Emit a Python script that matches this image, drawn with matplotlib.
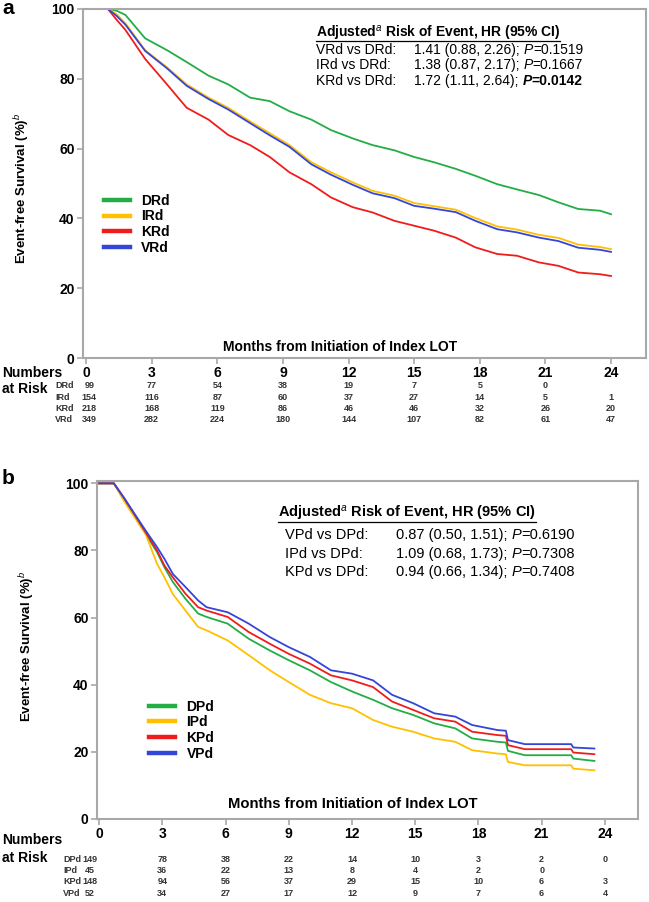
import matplotlib
matplotlib.use("Agg")
import matplotlib.pyplot as plt
import matplotlib.transforms as mtransforms
from matplotlib.lines import Line2D

plt.rcParams['font.family'] = ['Liberation Sans', 'DejaVu Sans']
plt.rcParams['mathtext.fontset'] = 'custom'
plt.rcParams['mathtext.rm'] = 'Liberation Sans'
plt.rcParams['mathtext.it'] = 'Liberation Sans:italic'
plt.rcParams['mathtext.bf'] = 'Liberation Sans:bold'

# ---- data, panel a ----
months_a = [0, 1.0, 1.4, 1.8, 2.7, 3.7, 4.6, 5.6, 6.5, 7.5, 8.4, 9.3, 10.3, 11.2,
            12.2, 13.1, 14.1, 15.0, 15.9, 16.9, 17.8, 18.8, 19.7, 20.7, 21.6, 22.5, 23.5, 24.0]
drd = [100, 100, 99.5, 98.3, 91.6, 88.2, 84.8, 80.9, 78.4, 74.6, 73.6, 70.7, 68.3, 65.3,
       62.9, 61.0, 59.5, 57.6, 56.1, 54.2, 52.2, 49.8, 48.3, 46.7, 44.6, 42.7, 42.2, 41.2]
ird = [100, 100, 98.5, 95.9, 88.2, 83.3, 78.4, 74.6, 71.7, 67.8, 64.4, 61.0, 56.1, 53.2,
       50.3, 47.9, 46.5, 44.4, 43.5, 42.5, 40.1, 37.7, 36.8, 35.3, 34.4, 32.5, 31.8, 31.2]
krd = [100, 100, 96.9, 94.0, 85.7, 78.4, 71.7, 68.3, 63.9, 61.0, 57.6, 53.2, 49.8, 46.0,
       43.2, 41.7, 39.3, 37.9, 36.5, 34.5, 31.7, 29.8, 29.3, 27.4, 26.4, 24.5, 24.0, 23.5]
vrd = [100, 100, 98.0, 95.5, 88.0, 83.0, 78.0, 74.2, 71.2, 67.3, 63.8, 60.5, 55.5, 52.5,
       49.6, 47.2, 45.8, 43.6, 42.8, 41.8, 39.3, 36.9, 36.0, 34.5, 33.5, 31.6, 31.0, 30.4]
names_a = ['DRd', 'IRd', 'KRd', 'VRd']
risk_a = [[99, 77, 54, 38, 19, 7, 5, 0, None],
          [154, 116, 87, 60, 37, 27, 14, 5, 1],
          [218, 168, 119, 86, 46, 46, 32, 26, 20],
          [349, 282, 224, 180, 144, 107, 82, 61, 47]]
hr_labels_a = ['VRd vs DRd:', 'IRd vs DRd:', 'KRd vs DRd:']
hr_values_a = ['1.41 (0.88, 2.26); ', '1.38 (0.87, 2.17); ', '1.72 (1.11, 2.64); ']
p_values_a = ['=0.1519', '=0.1667', '=0.0142']

# ---- data, panel b ----
months_b = [0, 0.7, 1.2, 2.2, 2.75, 3.1, 3.5, 4.1, 4.7, 5.1, 6.1, 7.1, 8.1, 9.0, 10.0,
            11.0, 12.0, 13.0, 13.9, 14.9, 15.9, 16.9, 17.7, 18.9, 19.3, 19.4, 20.2, 22.4, 22.5, 23.5]
dpd = [100, 100, 95.0, 85.0, 79.5, 75.0, 70.6, 65.6, 61.2, 60.2, 58.2, 53.7, 50.2, 47.3, 44.3,
       40.8, 38.0, 35.5, 33.0, 31.0, 28.5, 27.0, 24.0, 23.0, 22.8, 20.3, 19.0, 19.0, 18.0, 17.3]
ipd = [100, 100, 94.5, 85.0, 76.0, 72.0, 67.0, 62.1, 57.2, 56.2, 53.2, 48.8, 44.3, 40.8, 37.0,
       34.5, 33.0, 29.5, 27.5, 26.0, 24.0, 23.0, 20.5, 19.5, 19.3, 17.0, 16.0, 16.0, 15.0, 14.5]
kpd = [100, 100, 95.5, 85.5, 80.0, 75.5, 72.0, 67.1, 63.1, 62.1, 60.2, 55.7, 52.2, 49.2, 46.3,
       42.8, 41.3, 39.3, 35.0, 32.5, 30.0, 29.0, 26.0, 25.0, 24.8, 22.0, 20.8, 20.8, 19.8, 19.3]
vpd = [100, 100, 95.5, 86.0, 81.0, 77.5, 73.0, 69.1, 65.1, 63.1, 61.6, 58.2, 54.2, 51.2, 48.3,
       44.3, 43.3, 41.3, 37.0, 34.5, 31.5, 30.5, 28.0, 26.5, 26.3, 23.5, 22.3, 22.3, 21.3, 21.0]
names_b = ['DPd', 'IPd', 'KPd', 'VPd']
risk_b = [[149, 78, 38, 22, 14, 10, 3, 2, 0],
          [45, 36, 22, 13, 8, 4, 2, 0, None],
          [148, 94, 56, 37, 29, 15, 10, 6, 3],
          [52, 34, 27, 17, 12, 9, 7, 6, 4]]
hr_labels_b = ['VPd vs DPd:', 'IPd vs DPd:', 'KPd vs DPd:']
hr_values_b = ['0.87 (0.50, 1.51); ', '1.09 (0.68, 1.73); ', '0.94 (0.66, 1.34); ']
p_values_b = ['=0.6190', '=0.7308', '=0.7408']

month_ticks = [0, 3, 6, 9, 12, 15, 18, 21, 24]
surv_ticks = [0, 20, 40, 60, 80, 100]
colors = ['#22ad45', '#ffc000', '#f01c1c', '#3446d8']

W, H = 649, 902


def fx(px):
    return px / W


def fy(py):
    return 1 - py / H


fig = plt.figure(figsize=(W / 100, H / 100), dpi=100)
ax_a = fig.add_axes([fx(83), fy(358), fx(646) - fx(83), fy(9) - fy(358)])
ax_b = fig.add_axes([fx(97), fy(819), fx(638) - fx(97), fy(481) - fy(819)])


def setup(ax, xlim, ylim):
    ax.set_xlim(*xlim)
    ax.set_ylim(*ylim)
    ax.set_xticks(month_ticks)
    ax.set_yticks(surv_ticks)
    for s in ax.spines.values():
        s.set_color('#a8a8a8')
        s.set_linewidth(1.5)
    ax.tick_params(colors='#a8a8a8', length=4, width=1.2, labelcolor='black',
                   labelsize=10, pad=2)
    for lab in ax.get_xticklabels() + ax.get_yticklabels():
        lab.set_fontweight('bold')


def draw_panel(ax, months, series, names, risk, hr_labels, hr_values, p_values,
               title_xy, row_x, row_y, bold_last, fs, leg_anchor, leg_spacing,
               risk_rows_y, risk_label_x, numbers_y, first_col, letter, letter_y,
               ylabel_x, ylabel_y, xlabel_xy, xlabel_fs):
    for vals, c, n in zip(series, colors, names):
        ax.plot(months, vals, color=c, lw=1.3, label=n)

    leg = ax.legend(loc='center left', bbox_to_anchor=leg_anchor, frameon=False,
                    borderpad=0, borderaxespad=0, handlelength=1.9, handletextpad=0.8,
                    labelspacing=leg_spacing, prop={'weight': 'bold', 'size': 10})
    for h in leg.get_lines():
        h.set_linewidth(3.2)

    title = ax.text(title_xy[0], title_xy[1],
                    r'Adjusted$^{\mathit{a}}$ Risk of Event, HR (95% CI)',
                    fontsize=fs, fontweight='bold', va='center', ha='left')
    for i, (lab, val, pv) in enumerate(zip(hr_labels, hr_values, p_values)):
        w = 'bold' if (bold_last and i == len(hr_labels) - 1) else 'normal'
        ax.text(row_x[0], row_y[i], lab, fontsize=fs, va='center', ha='left')
        t1 = ax.text(row_x[1], row_y[i], val, fontsize=fs, va='center', ha='left')
        t2 = ax.annotate('P', xy=(1, 0), xycoords=t1, va='bottom', ha='left',
                         fontsize=fs, fontstyle='italic', fontweight=w)
        ax.annotate(pv, xy=(1, 0), xycoords=t2, va='bottom', ha='left',
                    fontsize=fs, fontweight=w)

    ax.text(xlabel_xy[0], xlabel_xy[1], 'Months from Initiation of Index LOT',
            fontsize=xlabel_fs, fontweight='bold', ha='center', va='center')

    fig.text(fx(2), fy(letter_y), letter, fontsize=15, fontweight='bold', va='center')
    fig.text(fx(ylabel_x), fy(ylabel_y), r'Event-free Survival (%)$^{\mathit{b}}$',
             rotation=90, fontsize=9.5, fontweight='bold', ha='center', va='center')

    # numbers at risk
    fig.text(fx(2), fy(numbers_y[0]), 'Numbers', fontsize=10, fontweight='bold', va='center')
    fig.text(fx(2), fy(numbers_y[1]), 'at Risk', fontsize=10, fontweight='bold', va='center')
    tr = mtransforms.blended_transform_factory(ax.transData, fig.transFigure)
    narrow = ['Liberation Sans Narrow', 'Liberation Sans']
    for row, n, yy in zip(risk, names, risk_rows_y):
        fig.text(fx(risk_label_x), fy(yy), n, fontsize=6.5, family=narrow, va='center',
                 fontweight='bold', color='#333333')
        for j, (m, v) in enumerate(zip(month_ticks, row)):
            if v is None:
                continue
            xm = first_col if j == 0 else m
            ax.text(xm, fy(yy), str(v), transform=tr, fontsize=6.5, family=narrow,
                    fontweight='bold', color='#333333',
                    ha='center', va='center', clip_on=False)
    return title


setup(ax_a, (-0.14, 25.6), (0, 100))
setup(ax_b, (-0.1, 25.57), (0, 100.7))

title_a = draw_panel(ax_a, months_a, [drd, ird, krd, vrd], names_a, risk_a,
                     hr_labels_a, hr_values_a, p_values_a,
                     (10.5, 93.0), (10.5, 15.0), (88.3, 84.0, 79.4), True, 10,
                     (0.037, 0.383), 0.12, (386, 397.5, 409, 420), 55, (373, 389), 0.15,
                     'a', 9, 22, 188, (11.6, 3.2), 10)
title_b = draw_panel(ax_b, months_b, [dpd, ipd, kpd, vpd], names_b, risk_b,
                     hr_labels_b, hr_values_b, p_values_b,
                     (8.5, 90.9), (8.8, 14.1), (84.5, 79.0, 73.7), False, 10.5,
                     (0.096, 0.263), 0.12, (859, 870.5, 882, 893.5), 63, (840, 858), -0.45,
                     'b', 479, 27, 646, (12.05, 4.5), 10.6)

# underline the titles
fig.canvas.draw()
renderer = fig.canvas.get_renderer()
inv = fig.transFigure.inverted()
for t in (title_a, title_b):
    bb = t.get_window_extent(renderer)
    (x0, y0), (x1, _) = inv.transform([(bb.x0, bb.y0 + 1.5), (bb.x1, bb.y0)])
    fig.add_artist(Line2D([x0, x1], [y0, y0], color='black', lw=0.9,
                          transform=fig.transFigure))

fig.savefig('out.png', dpi=100)
